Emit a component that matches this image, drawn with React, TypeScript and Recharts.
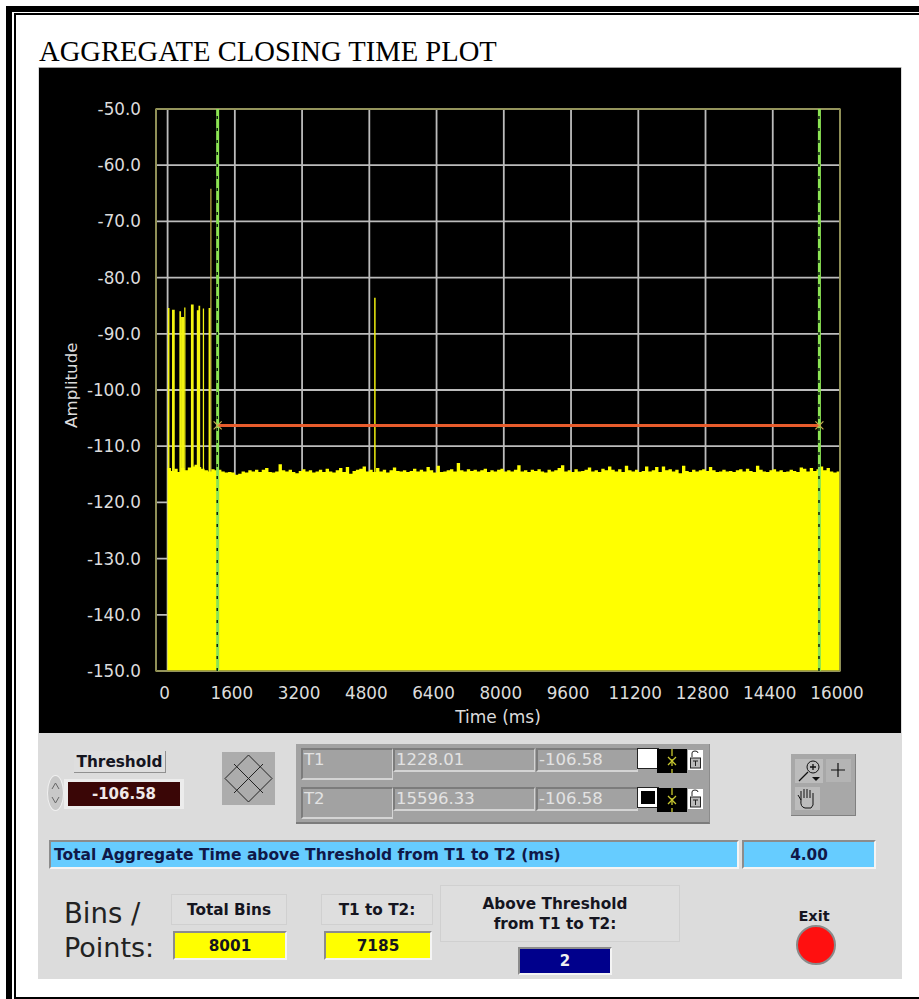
import type { CSSProperties, ReactNode } from 'react';
import {
  Area,
  CartesianGrid,
  ComposedChart,
  ReferenceArea,
  ReferenceDot,
  ReferenceLine,
  XAxis,
  YAxis,
} from 'recharts';

const TIME_TICKS = [0, 1600, 3200, 4800, 6400, 8000, 9600, 11200, 12800, 14400, 16000];
const AMP_TICKS = [-150, -140, -130, -120, -110, -100, -90, -80, -70, -60, -50];

// top edge of the noise floor, one reading every 80 ms
const FLOOR_STEP_MS = 80;
const FLOOR_LEVELS = [
  -113.9, -114.4, -114.0, -114.6, -113.9, -114.3, -113.8, -113.6, -113.3, -113.7,
  -114.0, -114.3, -114.5, -114.1, -114.3, -114.2, -114.5, -114.7, -114.6, -114.7,
  -115.1, -114.9, -114.5, -114.7, -114.3, -114.5, -114.2, -114.6, -114.2, -113.9,
  -114.6, -114.7, -114.5, -113.2, -114.3, -114.5, -114.2, -114.6, -114.8, -114.4,
  -114.1, -114.5, -114.3, -114.7, -114.5, -114.2, -114.6, -114.0, -114.5, -114.7,
  -114.3, -113.9, -114.6, -113.7, -114.9, -114.4, -114.2, -114.0, -113.6, -114.5,
  -114.2, -114.6, -113.9, -114.5, -114.2, -114.7, -114.3, -113.8, -114.4, -114.5,
  -114.3, -114.6, -114.4, -114.0, -114.5, -114.2, -114.5, -113.7, -114.3, -114.7,
  -113.5, -114.6, -114.5, -114.3, -114.1, -114.5, -113.0, -114.3, -114.5, -114.1,
  -114.4, -114.2, -114.5, -114.3, -114.0, -114.6, -114.3, -114.5, -114.2, -114.0,
  -114.5, -114.3, -114.5, -114.2, -113.4, -114.5, -114.3, -114.6, -114.2, -114.4,
  -114.1, -114.5, -114.7, -114.2, -114.5, -114.3, -113.9, -113.4, -114.5, -114.3,
  -114.6, -114.1, -114.5, -114.4, -114.2, -113.8, -114.5, -114.3, -114.6, -114.0,
  -114.3, -113.6, -114.2, -114.5, -114.1, -114.6, -113.5, -114.3, -114.5, -114.2,
  -114.6, -114.4, -113.6, -114.5, -114.3, -113.7, -114.6, -113.6, -114.3, -114.1,
  -114.5, -114.2, -114.8, -113.5, -114.4, -114.6, -114.2, -114.5, -114.3, -114.1,
  -114.4, -113.7, -114.3, -114.6, -114.5, -114.2, -114.5, -114.4, -114.6, -114.3,
  -114.1, -114.5, -114.0, -114.4, -114.6, -113.5, -114.2, -114.5, -114.6, -114.3,
  -114.1, -114.5, -114.3, -114.6, -114.5, -114.2, -114.4, -114.6, -113.8, -114.0,
  -114.5, -113.9, -114.4, -114.1, -113.6, -114.3, -113.9, -114.5, -114.7, -114.5,
  -114.2,
];

// pulses above the floor: start (ms), width (ms), level
const PULSE_TIMES = [5, 105, 280, 320, 395, 555, 695, 735, 838, 975, 4915];
const PULSE_WIDTHS = [40, 65, 40, 75, 30, 65, 60, 40, 30, 55, 35];
const PULSE_LEVELS = [-85.4, -85.7, -86.0, -87.0, -85.3, -84.8, -85.8, -85.0, -85.5, -85.4, -83.6];
const TALL_PULSE = { time: 1015, width: 30, level: -64.2 };

// cursors as they sit on the plot, and what the readout table says
const CURSOR_T1_MS = 1191;
const CURSOR_T2_MS = 15510;
const THRESHOLD_LINE = -106.3;
const READOUT_ROWS = [
  { name: 'T1', time: '1228.01', amp: '-106.58' },
  { name: 'T2', time: '15596.33', amp: '-106.58' },
];

const floorRows = FLOOR_LEVELS.map((level, i) => ({ time: i * FLOOR_STEP_MS, level }));
const pulseRows = PULSE_TIMES.map((time, i) => [
  { time, level: PULSE_LEVELS[i] },
  { time: time + PULSE_WIDTHS[i], level: PULSE_LEVELS[i] },
]);

const UI_FONT = '"DejaVu Sans", sans-serif';
const TICK_STYLE = { fill: '#dcdcdc', fontSize: 16.8, fontFamily: UI_FONT };

function XMark({ cx, cy }: { cx?: number; cy?: number }) {
  const x = cx ?? 0;
  const y = cy ?? 0;
  return (
    <path
      d={`M${x - 4} ${y - 4}L${x + 4} ${y + 4}M${x - 4} ${y + 4}L${x + 4} ${y - 4}`}
      stroke="#c8b050"
      strokeWidth={1.2}
      fill="none"
    />
  );
}

function At({ x, y, w, h, style, children }: { x: number; y: number; w: number; h: number; style?: CSSProperties; children?: ReactNode }) {
  return (
    <div
      style={{
        position: 'absolute',
        left: x,
        top: y,
        width: w,
        height: h,
        boxSizing: 'border-box',
        fontFamily: UI_FONT,
        ...style,
      }}
    >
      {children}
    </div>
  );
}

const CENTER: CSSProperties = {
  display: 'flex',
  alignItems: 'center',
  justifyContent: 'center',
  fontWeight: 700,
  fontSize: 15.3,
  color: '#15151f',
  textAlign: 'center',
  lineHeight: '20px',
  whiteSpace: 'nowrap',
};
const SUNKEN: CSSProperties = {
  borderTop: '2px solid #8c8c8c',
  borderLeft: '2px solid #8c8c8c',
  borderBottom: '2px solid #f4f4f4',
  borderRight: '2px solid #f4f4f4',
};
const FLAT_BOX: CSSProperties = { border: '1px solid #d0d0d0', background: '#dedede' };
const CELL: CSSProperties = {
  borderTop: '2px solid #7c7c7c',
  borderLeft: '2px solid #7c7c7c',
  borderBottom: '2px solid #d4d4d4',
  borderRight: '1px solid #d4d4d4',
  color: '#e2e2e2',
  fontSize: 16.5,
  lineHeight: '20px',
  paddingLeft: 1,
};

function ReadoutRow({ top, row, filled }: { top: number; row: (typeof READOUT_ROWS)[number]; filled: boolean }) {
  return (
    <>
      <At x={301} y={top} w={92} h={32} style={CELL}>{row.name}</At>
      <At x={393} y={top} w={142} h={24} style={CELL}>{row.time}</At>
      <At x={536} y={top} w={102} h={24} style={CELL}>{row.amp}</At>
      <At x={638} y={top + 1} w={20} h={19} style={{ background: filled ? '#ffffff' : '#000000', border: '3px solid #fff', outline: '1px solid #222' }} />
      <At x={657} y={top + 1} w={30} h={24} style={{ background: '#000' }}>
        <svg width={30} height={24}>
          <path d="M15 0V24" stroke="#c8c830" strokeWidth={1.3} strokeDasharray="7 3" />
          <path d="M11 8L19 16M11 16L19 8" stroke="#c8c830" strokeWidth={1.3} />
        </svg>
      </At>
      <At x={688} y={top + 2} w={15} h={20} style={{ background: '#fff' }}>
        <svg width={15} height={20}>
          <path d="M4 7V3Q4 1 7 1Q10 1 10 3" stroke="#222" fill="none" />
          <rect x={2.5} y={8} width={10} height={10} fill="#bbb" stroke="#222" />
          <path d="M5 11H10M7.5 11V16" stroke="#222" />
        </svg>
      </At>
    </>
  );
}

export default function App() {
  return (
    <div style={{ position: 'absolute', left: 0, top: 0, width: 919, height: 999, background: '#fff', overflow: 'hidden' }}>
      {/* document frame */}
      <At x={6} y={6} w={913} h={6} style={{ background: '#000' }} />
      <At x={6} y={6} w={6} h={993} style={{ background: '#000' }} />
      <At x={14} y={13} w={905} h={2} style={{ background: '#000' }} />
      <At x={14} y={13} w={2} h={986} style={{ background: '#000' }} />
      <At x={14} y={997} w={905} h={1.5} style={{ background: '#000' }} />

      <At
        x={39}
        y={36}
        w={600}
        h={32}
        style={{ fontFamily: '"Liberation Serif", serif', fontSize: 28.6, lineHeight: '32px', color: '#000', whiteSpace: 'nowrap' }}
      >
        AGGREGATE CLOSING TIME PLOT
      </At>

      {/* front panel */}
      <At x={38} y={67} w={864} h={912} style={{ background: '#dcdcdc' }} />
      <At x={39} y={67} w={862} h={666} style={{ background: '#000', borderTop: '1px solid #a0a0a0' }} />

      <div style={{ position: 'absolute', left: 39, top: 67 }}>
        <ComposedChart width={862} height={666} margin={{ top: 42, right: 61, bottom: 0, left: 0 }}>
          <CartesianGrid stroke="#bcbcbc" strokeWidth={1.8} />
          <XAxis
            dataKey="time"
            type="number"
            domain={[-276, 16000]}
            ticks={TIME_TICKS}
            interval={0}
            height={62}
            tickSize={0}
            tickMargin={16}
            axisLine={false}
            tick={{ ...TICK_STYLE, dx: -3 }}
            label={{ value: 'Time (ms)', position: 'insideBottom', offset: 10, fill: '#dcdcdc', fontSize: 17, fontFamily: UI_FONT }}
          />
          <YAxis
            type="number"
            domain={[-150, -50]}
            ticks={AMP_TICKS}
            interval={0}
            width={117}
            tickSize={0}
            tickMargin={15}
            axisLine={false}
            tick={TICK_STYLE}
            tickFormatter={(v: number) => v.toFixed(1)}
            label={{ value: 'Amplitude', angle: -90, position: 'insideLeft', offset: 32, dy: 38, fill: '#dcdcdc', fontSize: 16.7, fontFamily: UI_FONT }}
          />
          {pulseRows.map((rows) => (
            <Area
              key={rows[0].time}
              data={rows}
              dataKey="level"
              baseValue={-150}
              type="linear"
              stroke="none"
              fill="#f4f410"
              fillOpacity={1}
              dot={false}
              activeDot={false}
              isAnimationActive={false}
            />
          ))}
          <Area
            data={[
              { time: TALL_PULSE.time, level: TALL_PULSE.level },
              { time: TALL_PULSE.time + TALL_PULSE.width, level: TALL_PULSE.level },
            ]}
            dataKey="level"
            baseValue={-150}
            type="linear"
            stroke="none"
            fill="#b8aa40"
            fillOpacity={1}
            dot={false}
            activeDot={false}
            isAnimationActive={false}
          />
          <Area
            data={floorRows}
            dataKey="level"
            baseValue={-150}
            type="stepAfter"
            stroke="none"
            fill="#ffff00"
            fillOpacity={1}
            dot={false}
            activeDot={false}
            isAnimationActive={false}
          />
          <ReferenceArea x1={-276} x2={16000} y1={-150} y2={-50} fill="none" stroke="#86863c" strokeWidth={1.5} ifOverflow="visible" />
          <ReferenceLine x={CURSOR_T1_MS} stroke="#8ce454" strokeWidth={3} />
          <ReferenceLine x={CURSOR_T1_MS - 10} stroke="#0c200c" strokeWidth={1.5} strokeDasharray="3 9" />
          <ReferenceLine x={CURSOR_T2_MS} stroke="#8ce454" strokeWidth={3} />
          <ReferenceLine x={CURSOR_T2_MS - 10} stroke="#0c200c" strokeWidth={1.5} strokeDasharray="3 9" />
          <ReferenceLine
            segment={[
              { x: CURSOR_T1_MS, y: THRESHOLD_LINE },
              { x: CURSOR_T2_MS, y: THRESHOLD_LINE },
            ]}
            stroke="#e85c2c"
            strokeWidth={3}
          />
          <ReferenceDot x={CURSOR_T1_MS} y={THRESHOLD_LINE} r={4} shape={XMark} />
          <ReferenceDot x={CURSOR_T2_MS} y={THRESHOLD_LINE} r={4} shape={XMark} />
        </ComposedChart>
      </div>

      {/* threshold control */}
      <At x={74} y={751} w={92} h={22} style={{ ...CENTER, borderRight: '1px solid #909090', borderBottom: '1px solid #909090', background: '#dedede' }}>
        Threshold
      </At>
      <At x={47} y={775} w={17} h={36} style={{ background: '#c8c8c8', border: '1px solid #f0f0f0', borderRadius: '50%' }}>
        <svg width={15} height={34}>
          <path d="M4 13L7.5 7L11 13M4 21L7.5 27L11 21" stroke="#666" fill="none" />
        </svg>
      </At>
      <At x={64} y={779} w={120} h={30} style={{ background: '#ececec' }} />
      <At x={68} y={782} w={112} h={24} style={{ ...CENTER, background: '#3a0606', color: '#f0e8e8', fontSize: 15 }}>
        -106.58
      </At>

      {/* cursor mover */}
      <At x={222} y={752} w={53} h={53} style={{ background: '#acacac' }}>
        <svg width={53} height={53}>
          <g fill="none" stroke="#222" strokeWidth={1}>
            <path d="M26.5 3L50 26.5L26.5 50L3 26.5Z" />
            <path d="M15 15L38 38M38 15L15 38M12 12L41 41M41 12L12 41" />
          </g>
        </svg>
      </At>

      {/* cursor readout */}
      <At x={296} y={744} w={414} h={80} style={{ background: '#a2a2a2', borderBottom: '2px solid #7c7c7c', borderRight: '1px solid #8c8c8c' }} />
      <ReadoutRow top={748} row={READOUT_ROWS[0]} filled />
      <ReadoutRow top={787} row={READOUT_ROWS[1]} filled={false} />

      {/* graph palette */}
      <At x={791} y={754} w={65} h={62} style={{ background: '#a8a8a8', borderBottom: '1px solid #808080', borderRight: '1px solid #808080' }}>
        <svg width={65} height={62}>
          <rect x={4} y={5} width={28} height={24} fill="#bcbcbc" />
          <circle cx={22} cy={13} r={6} fill="none" stroke="#111" />
          <path d="M19 13H25M22 10V16M17 18L8 27" stroke="#111" strokeWidth={1.3} />
          <path d="M21 23H29L25 27Z" fill="#111" />
          <rect x={35} y={5} width={25} height={23} fill="#b4b4b4" />
          <path d="M47 9V23M40 16H54" stroke="#111" strokeWidth={1.2} />
          <rect x={4} y={33} width={25} height={23} fill="#bcbcbc" />
          <path d="M10 46L7 41M10 46V37M13 44V35M16 44V35M19 44V36M22 46V39M10 46Q9 53 14 54H20Q23 52 22 46" stroke="#111" fill="none" />
        </svg>
      </At>

      {/* aggregate time */}
      <At x={49} y={840} w={690} h={29} style={{ ...SUNKEN, background: '#66ccff', display: 'flex', alignItems: 'center', fontWeight: 700, fontSize: 15.5, color: '#101848', paddingLeft: 3, whiteSpace: 'nowrap' }}>
        Total Aggregate Time above Threshold from T1 to T2 (ms)
      </At>
      <At x={742} y={840} w={134} h={29} style={{ ...SUNKEN, ...CENTER, background: '#66ccff', color: '#101848' }}>
        4.00
      </At>

      {/* bin counts */}
      <At x={64} y={894} w={110} h={38} style={{ fontSize: 27.5, lineHeight: '38px', color: '#222', whiteSpace: 'nowrap' }}>Bins /</At>
      <At x={64} y={929} w={110} h={38} style={{ fontSize: 27, lineHeight: '38px', color: '#222', whiteSpace: 'nowrap' }}>Points:</At>

      <At x={171} y={894} w={116} h={31} style={{ ...CENTER, ...FLAT_BOX }}>Total Bins</At>
      <At x={173} y={931} w={114} h={29} style={{ ...SUNKEN, ...CENTER, background: '#ffff00' }}>8001</At>

      <At x={321} y={894} w={112} h={31} style={{ ...CENTER, ...FLAT_BOX }}>T1 to T2:</At>
      <At x={324} y={931} w={108} h={29} style={{ ...SUNKEN, ...CENTER, background: '#ffff00' }}>7185</At>

      <At x={440} y={885} w={240} h={57} style={{ ...CENTER, ...FLAT_BOX, paddingRight: 10 }}>
        <div>Above Threshold<br />from T1 to T2:</div>
      </At>
      <At x={518} y={947} w={94} h={28} style={{ ...SUNKEN, ...CENTER, background: '#00008c', color: '#f0f0f0', fontSize: 15 }}>2</At>

      {/* exit */}
      <At x={780} y={906} w={68} h={20} style={{ ...CENTER, fontSize: 14.5 }}>Exit</At>
      <At x={796} y={925} w={40} h={40} style={{ background: '#ff1010', border: '2px solid #8a8a8a', borderRadius: '50%' }} />
    </div>
  );
}
